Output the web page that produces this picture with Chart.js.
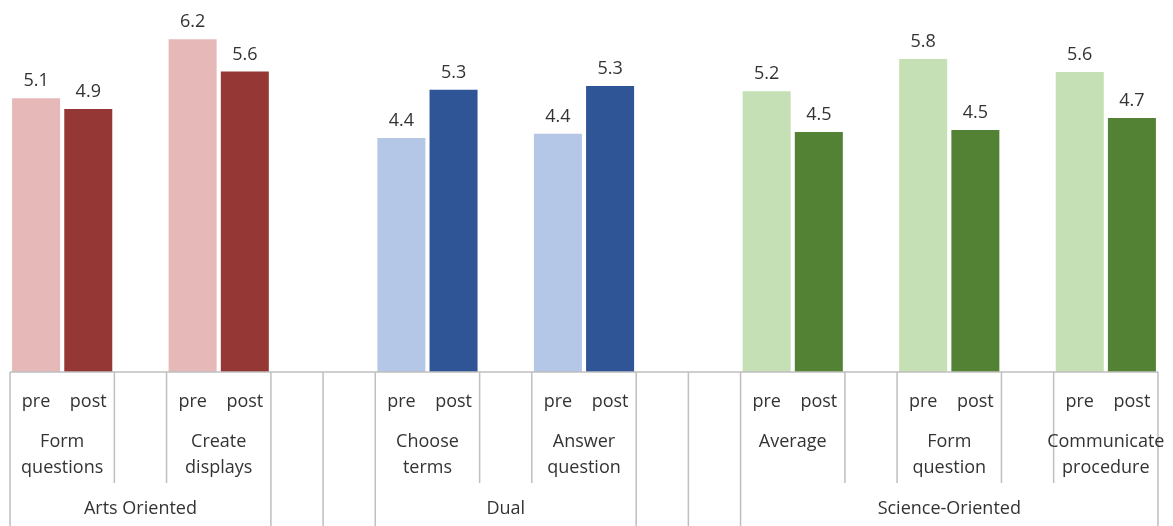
<!DOCTYPE html>
<html>
<head>
<meta charset="utf-8">
<script src="https://cdn.jsdelivr.net/npm/chart.js@4/dist/chart.umd.min.js"></script>
<style>
  body { margin: 0; background: #fff; }
</style>
</head>
<body>
<canvas id="chart" width="1173" height="526"></canvas>
<script>
// one slot per bar, empty slots keep the gaps Excel left between groups
const slotLabels = ["pre", "post", "", "pre", "post", "", "",
  "pre", "post", "", "pre", "post", "", "",
  "pre", "post", "", "pre", "post", "", "pre", "post"];
const values = [5.1, 4.9, null, 6.2, 5.6, null, null,
  4.36, 5.26, null, 4.44, 5.33, null, null,
  5.23, 4.47, null, 5.83, 4.51, null, 5.59, 4.73];
const barColors = ["#E6B9B8", "#953735", null, "#E6B9B8", "#953735", null, null,
  "#B4C7E7", "#2F5597", null, "#B4C7E7", "#2F5597", null, null,
  "#C5E0B4", "#548235", null, "#C5E0B4", "#548235", null, "#C5E0B4", "#548235"];

const subLabels = [["Form", "questions"], ["Create", "displays"], ["Choose", "terms"],
  ["Answer", "question"], ["Average"], ["Form", "question"], ["Communicate", "procedure"]];
const subStart = [0, 3, 7, 10, 14, 17, 20];

const groupLabels = ["Arts Oriented", "Dual", "Science-Oriented"];
const groupStart = [0, 7, 14];
const groupEnd = [4, 11, 21];

// slot edges with lines: full height ones split the top groups, short ones sit inside a group
const fullEdges = [0, 5, 6, 7, 12, 13, 14, 22];
const shortEdges = [2, 3, 9, 10, 16, 17, 19, 20];

const FONT = '"Open Sans", "Noto Sans", sans-serif';
const TEXT = "#333333";
const LINE = "#BFBFBF";

const categoryAxis = {
  id: "categoryAxis",
  afterDraw(chart) {
    const ctx = chart.ctx;
    const x = chart.scales.x;
    const area = chart.chartArea;
    const slot = x.getPixelForValue(1) - x.getPixelForValue(0);
    const edge = i => x.getPixelForValue(0) - slot / 2 + i * slot;
    const base = area.bottom;

    ctx.save();
    ctx.strokeStyle = LINE;
    ctx.lineWidth = 1.5;
    ctx.beginPath();
    ctx.moveTo(edge(0), base);
    ctx.lineTo(edge(22), base);
    fullEdges.forEach(i => { ctx.moveTo(edge(i), base); ctx.lineTo(edge(i), 526); });
    shortEdges.forEach(i => { ctx.moveTo(edge(i), base); ctx.lineTo(edge(i), base + 111); });
    ctx.stroke();

    ctx.fillStyle = TEXT;
    ctx.font = "18px " + FONT;
    ctx.textAlign = "center";
    ctx.textBaseline = "middle";
    slotLabels.forEach((t, i) => {
      if (t) ctx.fillText(t, x.getPixelForValue(i), base + 30);
    });
    subLabels.forEach((lines, k) => {
      const cx = edge(subStart[k] + 1);
      lines.forEach((t, j) => ctx.fillText(t, cx, base + 70 + j * 26));
    });
    groupLabels.forEach((t, k) => {
      const cx = (edge(groupStart[k]) + edge(groupEnd[k] + 1)) / 2;
      ctx.fillText(t, cx, base + 137);
    });

    // value labels above the bars
    const meta = chart.getDatasetMeta(0);
    ctx.textBaseline = "bottom";
    meta.data.forEach((bar, i) => {
      if (values[i] == null) return;
      ctx.fillText(values[i].toFixed(1), bar.x, bar.y - 8);
    });
    ctx.restore();
  }
};

new Chart(document.getElementById("chart"), {
  type: "bar",
  data: {
    labels: slotLabels.map((l, i) => l + i),
    datasets: [{
      data: values,
      backgroundColor: barColors,
      barPercentage: 0.92,
      categoryPercentage: 1.0,
    }],
  },
  options: {
    responsive: false,
    animation: false,
    layout: { padding: { left: 10, right: 15, top: 0, bottom: 154 } },
    plugins: { legend: { display: false }, tooltip: { enabled: false } },
    scales: {
      x: { display: false },
      y: { display: false, min: 0, max: 6.93 },
    },
  },
  plugins: [categoryAxis],
});
</script>
</body>
</html>
